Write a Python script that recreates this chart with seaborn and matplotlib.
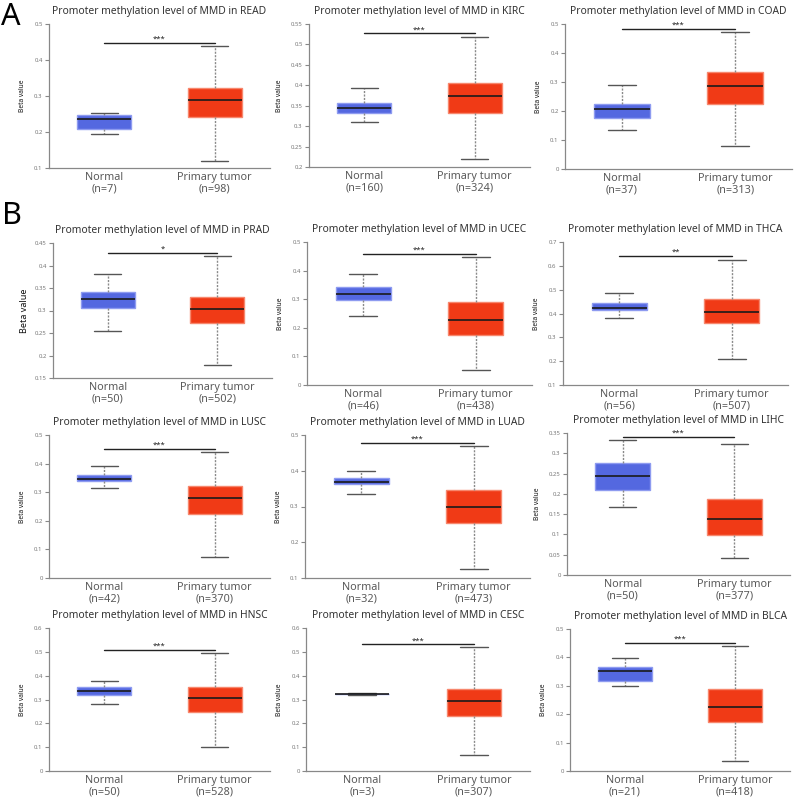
import numpy as np
import pandas as pd
import seaborn as sns
import matplotlib.pyplot as plt
from matplotlib.ticker import MultipleLocator, FuncFormatter

# values: five-number summaries (whisker low, q1, median, q3, whisker high)
cancers = ['READ', 'KIRC', 'COAD', 'PRAD', 'UCEC', 'THCA',
           'LUSC', 'LUAD', 'LIHC', 'HNSC', 'CESC', 'BLCA']
n_normal = [7, 160, 37, 50, 46, 56, 42, 32, 50, 50, 3, 21]
n_tumor = [98, 324, 313, 502, 438, 507, 370, 473, 377, 528, 307, 418]
signif = ['***', '***', '***', '*', '***', '**', '***', '***', '***', '***', '***', '***']
normal_box = [
    [0.195, 0.209, 0.235, 0.246, 0.252],
    [0.309, 0.331, 0.345, 0.356, 0.394],
    [0.134, 0.175, 0.206, 0.225, 0.288],
    [0.254, 0.305, 0.325, 0.341, 0.382],
    [0.240, 0.298, 0.317, 0.341, 0.389],
    [0.380, 0.413, 0.424, 0.442, 0.487],
    [0.314, 0.338, 0.346, 0.361, 0.391],
    [0.335, 0.362, 0.368, 0.379, 0.400],
    [0.168, 0.209, 0.243, 0.277, 0.332],
    [0.280, 0.320, 0.336, 0.352, 0.378],
    [0.317, 0.321, 0.322, 0.324, 0.327],
    [0.299, 0.317, 0.352, 0.365, 0.399],
]
tumor_box = [
    [0.120, 0.241, 0.288, 0.322, 0.439],
    [0.220, 0.333, 0.373, 0.405, 0.518],
    [0.078, 0.225, 0.285, 0.334, 0.472],
    [0.180, 0.272, 0.303, 0.330, 0.421],
    [0.051, 0.175, 0.228, 0.289, 0.449],
    [0.209, 0.360, 0.405, 0.461, 0.626],
    [0.075, 0.223, 0.279, 0.322, 0.439],
    [0.126, 0.255, 0.300, 0.347, 0.469],
    [0.041, 0.099, 0.139, 0.188, 0.322],
    [0.101, 0.249, 0.307, 0.352, 0.496],
    [0.067, 0.230, 0.293, 0.345, 0.519],
    [0.035, 0.172, 0.227, 0.287, 0.440],
]
bar_y = [0.448, 0.527, 0.483, 0.4285, 0.459, 0.641, 0.452, 0.479, 0.340, 0.508, 0.532, 0.452]
y_lims = [(0.1, 0.5), (0.2, 0.55), (0, 0.5), (0.15, 0.45), (0, 0.5), (0.1, 0.7),
          (0, 0.5), (0.1, 0.5), (0, 0.35), (0, 0.6), (0, 0.6), (0, 0.5)]
y_steps = [0.1, 0.05, 0.1, 0.05, 0.1, 0.1, 0.1, 0.1, 0.05, 0.1, 0.1, 0.1]

# axes rectangles in pixels: left, right, top, bottom
rects = [(49, 270, 24, 168), (309, 530, 24, 167), (565, 792, 24, 169),
         (53, 272, 243, 378), (307, 532, 242, 385), (563, 788, 242, 385),
         (49, 270, 435, 578), (305, 530, 435, 578), (567, 790, 433, 575),
         (49, 270, 628, 771), (306, 530, 628, 771), (570, 790, 629, 771)]

W, H = 794, 799
blue, red = '#5468E0', '#F03A16'
blue_edge, red_edge = '#8E9BF0', '#F7876D'

sns.set_style('white')
plt.rcParams['font.family'] = ['Noto Sans', 'DejaVu Sans']

fig = plt.figure(figsize=(W / 100, H / 100), dpi=100)

for i, cancer in enumerate(cancers):
    l, r, t, b = rects[i]
    ax = fig.add_axes([l / W, 1 - b / H, (r - l) / W, (b - t) / H])
    lab_n = f'Normal\n(n={n_normal[i]})'
    lab_t = f'Primary tumor\n(n={n_tumor[i]})'
    df = pd.DataFrame({
        'group': [lab_n] * 5 + [lab_t] * 5,
        'value': normal_box[i] + tumor_box[i],
    })
    sns.boxplot(data=df, x='group', y='value', hue='group', order=[lab_n, lab_t],
                palette=[blue, red], saturation=1, width=0.49, whis=(0, 100),
                legend=False, ax=ax, linewidth=1,
                whiskerprops=dict(color='#8a8a8a', linestyle=(0, (1.5, 1)), linewidth=1),
                capprops=dict(color='#555555', linewidth=1),
                medianprops=dict(color='#1a1a1a', linewidth=1.2))
    for patch, ec in zip(ax.patches, [blue_edge, red_edge]):
        patch.set_edgecolor(ec)

    ax.set_xlim(-0.5, 1.5)
    ax.set_ylim(*y_lims[i])
    ax.yaxis.set_major_locator(MultipleLocator(y_steps[i]))
    ax.yaxis.set_major_formatter(FuncFormatter(lambda v, p: f'{round(v, 3):g}'))

    # significance bar
    ax.plot([0, 1], [bar_y[i], bar_y[i]], color='#222222', lw=1, clip_on=False)
    ax.text(0.5, bar_y[i], signif[i], ha='center', va='bottom', fontsize=5.5,
            fontweight='bold', color='#222222')

    ax.set_title(f'Promoter methylation level of MMD in {cancer}',
                 fontsize=7.4, color='#333333', pad=7)
    ax.set_xlabel('')
    big = cancer == 'PRAD'
    ax.set_ylabel('Beta value', fontsize=6.5 if big else 4.8, fontweight='bold',
                  color='#111111', labelpad=4 if big else 6)
    ax.tick_params(axis='y', length=3, width=0.8, color='#888888', labelsize=4.3,
                   labelcolor='#777777', pad=1.5, left=True)
    ax.tick_params(axis='x', length=0, labelsize=7.8, labelcolor='#5a5a5a', pad=3)
    for lbl in ax.get_xticklabels():
        lbl.set_linespacing(1.05)
    sns.despine(ax=ax)
    for s in ['left', 'bottom']:
        ax.spines[s].set_color('#888888')
        ax.spines[s].set_linewidth(0.9)

fig.text(1 / W, 1 - 2 / H, 'A', fontsize=22, va='top', ha='left', color='black')
fig.text(2 / W, 1 - 201 / H, 'B', fontsize=22, va='top', ha='left', color='black')

fig.savefig('out.png', dpi=100, facecolor='white')
